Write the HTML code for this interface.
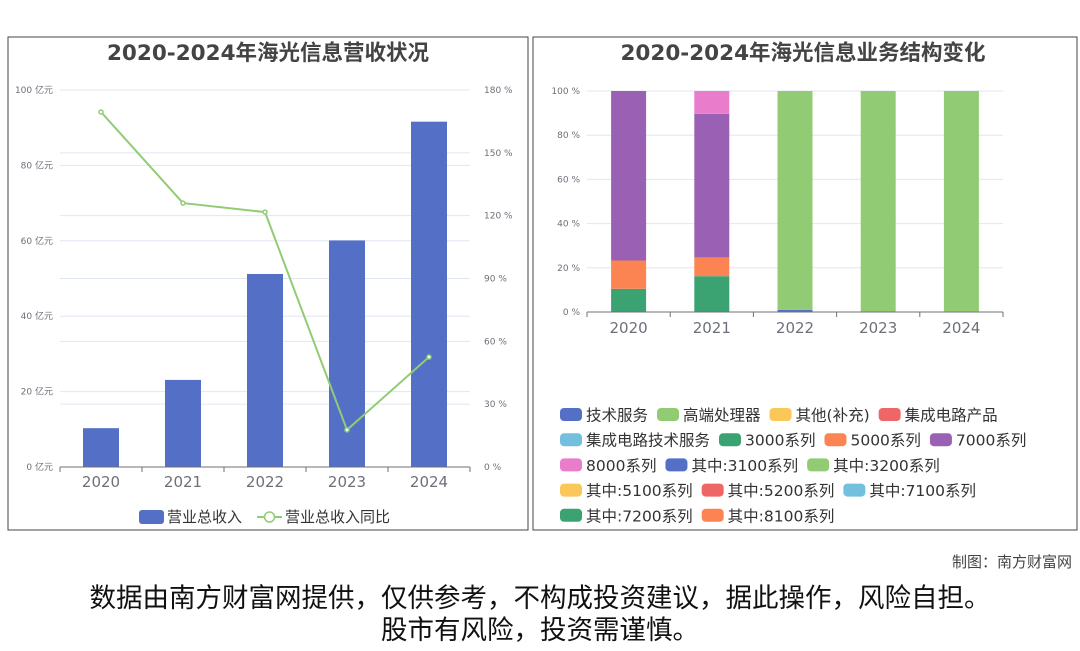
<!DOCTYPE html>
<html><head><meta charset="utf-8">
<style>
body{margin:0;width:1080px;height:646px;background:#fff;overflow:hidden;font-family:"Liberation Sans","Noto Sans CJK SC",sans-serif;}
svg text{font-family:"DejaVu Sans","Noto Sans CJK SC",sans-serif;}
</style></head><body>
<svg id="s" width="1080" height="646" xmlns="http://www.w3.org/2000/svg">
<rect x="8" y="37" width="520" height="493" fill="none" stroke="#444" stroke-width="1"/>
<rect x="533" y="37" width="544" height="493" fill="none" stroke="#444" stroke-width="1"/>
<text x="268" y="60" text-anchor="middle" font-size="21.5" font-weight="bold" fill="#444">2020-2024年海光信息营收状况</text>
<text x="803" y="60" text-anchor="middle" font-size="21.5" font-weight="bold" fill="#444">2020-2024年海光信息业务结构变化</text>
<g id="left"></g><g id="right"></g>
<text x="1072" y="567" text-anchor="end" font-size="15" fill="#444">制图：南方财富网</text>
<text x="540" y="607" text-anchor="middle" font-size="26.5" fill="#111">数据由南方财富网提供，仅供参考，不构成投资建议，据此操作，风险自担。</text>
<text x="540" y="639" text-anchor="middle" font-size="26.5" fill="#111">股市有风险，投资需谨慎。</text>
</svg>
<script>
const years=['2020','2021','2022','2023','2024'];
const revenue=[10.3,23.1,51.2,60.1,91.6];
const growth=[169.5,126,121.7,17.7,52.5];
const leftTicks=[0,20,40,60,80,100];
const rightTicks=[0,30,60,90,120,150,180];
const seriesNames=['技术服务','高端处理器','其他(补充)','集成电路产品','集成电路技术服务','3000系列','5000系列','7000系列','8000系列','其中:3100系列','其中:3200系列','其中:5100系列','其中:5200系列','其中:7100系列','其中:7200系列','其中:8100系列'];
const colors=['#5470c6','#91cc75','#fac858','#ee6666','#73c0de','#3ba272','#fc8452','#9a60b4','#ea7ccc','#5470c6','#91cc75','#fac858','#ee6666','#73c0de','#3ba272','#fc8452'];
const shareTech=[0,0,1,0,0.3];
const shareHigh=[0,0,99,100,99.7];
const share3000=[10.5,16.2,0,0,0];
const share5000=[12.8,8.5,0,0,0];
const share7000=[76.7,65,0,0,0];
const share8000=[0,10.3,0,0,0];
const pctTicks=[0,20,40,60,80,100];
const NS='http://www.w3.org/2000/svg';
function mk(p,t,a){const e=document.createElementNS(NS,t);for(const k in a)e.setAttribute(k,a[k]);p.appendChild(e);return e;}
const L=document.getElementById('left');
const lx0=60,lx1=470,ly0=467,ly1=90;
const bw=(lx1-lx0)/years.length;
const yL=v=>ly0-(v/100)*(ly0-ly1);
const yR=v=>ly0-(v/180)*(ly0-ly1);
const xC=i=>lx0+bw*(i+0.5);
leftTicks.forEach(t=>{let g=mk(L,'line',{x1:lx0,x2:lx1,y1:yL(t),y2:yL(t),stroke:'#e0e6f1'});

let tx=mk(L,'text',{x:lx0-7,y:yL(t)+3,'text-anchor':'end','font-size':9,fill:'#6e7079'});tx.textContent=t+' 亿元';
});
rightTicks.forEach(t=>{let g=mk(L,'line',{x1:lx0,x2:lx1,y1:yR(t),y2:yR(t),stroke:'#e0e6f1'});

let tx=mk(L,'text',{x:lx1+14,y:yR(t)+3,'font-size':9,fill:'#6e7079'});tx.textContent=t+' %';
});
revenue.forEach((v,i)=>{let r=mk(L,'rect',{x:xC(i)-18,y:yL(v),width:36,height:ly0-yL(v),fill:'#5470c6'});
});
let ax=mk(L,'line',{x1:lx0,x2:lx1,y1:ly0,y2:ly0,stroke:'#6e7079'});
for(let i=0;i<=years.length;i++){mk(L,'line',{x1:lx0+bw*i,x2:lx0+bw*i,y1:ly0,y2:ly0+5,stroke:'#6e7079'});}
years.forEach((y,i)=>{let t=mk(L,'text',{x:xC(i),y:ly0+20,'text-anchor':'middle','font-size':15,fill:'#6e7079'});t.textContent=y;
});
let pl=mk(L,'polyline',{points:growth.map((v,i)=>xC(i)+','+yR(v)).join(' '),fill:'none',stroke:'#91cc75','stroke-width':2});

growth.forEach((v,i)=>{let c=mk(L,'circle',{cx:xC(i),cy:yR(v),r:2,fill:'#fff',stroke:'#91cc75','stroke-width':1.5});
});
let lg1=mk(L,'rect',{x:139,y:510,width:25,height:14,rx:3,fill:'#5470c6'});
let lt1=mk(L,'text',{x:167,y:522,'font-size':15,fill:'#333'});lt1.textContent='营业总收入';
mk(L,'line',{x1:257,x2:282,y1:517,y2:517,stroke:'#91cc75','stroke-width':2});
mk(L,'circle',{cx:269.5,cy:517,r:5,fill:'#fff',stroke:'#91cc75','stroke-width':1.5});
let lt2=mk(L,'text',{x:285,y:522,'font-size':15,fill:'#333'});lt2.textContent='营业总收入同比';
const R=document.getElementById('right');
const rx0=587,rx1=1003,ry0=312,ry1=91;
const rbw=(rx1-rx0)/years.length;
const yP=v=>ry0-(v/100)*(ry0-ry1);
const xR=i=>rx0+rbw*(i+0.5);
pctTicks.forEach(t=>{let g=mk(R,'line',{x1:rx0,x2:rx1,y1:yP(t),y2:yP(t),stroke:'#e0e6f1'});

let tx=mk(R,'text',{x:rx0-7,y:yP(t)+3,'text-anchor':'end','font-size':9,fill:'#6e7079'});tx.textContent=t+' %';
});
const stack=[[shareTech,0],[shareHigh,1],[share3000,5],[share5000,6],[share7000,7],[share8000,8]];
years.forEach((y,i)=>{let base=0;stack.forEach(([arr,ci])=>{const v=arr[i];if(v>0){
let r=mk(R,'rect',{x:xR(i)-17.5,y:yP(base+v),width:35,height:yP(base)-yP(base+v),fill:colors[ci]});
}base+=v;});});
let ax2=mk(R,'line',{x1:rx0,x2:rx1,y1:ry0,y2:ry0,stroke:'#6e7079'});
for(let i=0;i<=years.length;i++){mk(R,'line',{x1:rx0+rbw*i,x2:rx0+rbw*i,y1:ry0,y2:ry0+5,stroke:'#6e7079'});}
years.forEach((y,i)=>{let t=mk(R,'text',{x:xR(i),y:ry0+21,'text-anchor':'middle','font-size':15,fill:'#6e7079'});t.textContent=y;
});
const rows=[[0,1,2,3],[4,5,6,7],[8,9,10],[11,12,13],[14,15]];
rows.forEach((row,ri)=>{let x=560;const y=415+ri*25.2;row.forEach(si=>{
let sw=mk(R,'rect',{x:x,y:y-7,width:22,height:13,rx:4,fill:colors[si]});

let t=mk(R,'text',{x:x+26,y:y+5.5,'font-size':15.5,fill:'#333'});t.textContent=seriesNames[si];

x+=26+t.getComputedTextLength()+9;});});
</script>
</body></html>
